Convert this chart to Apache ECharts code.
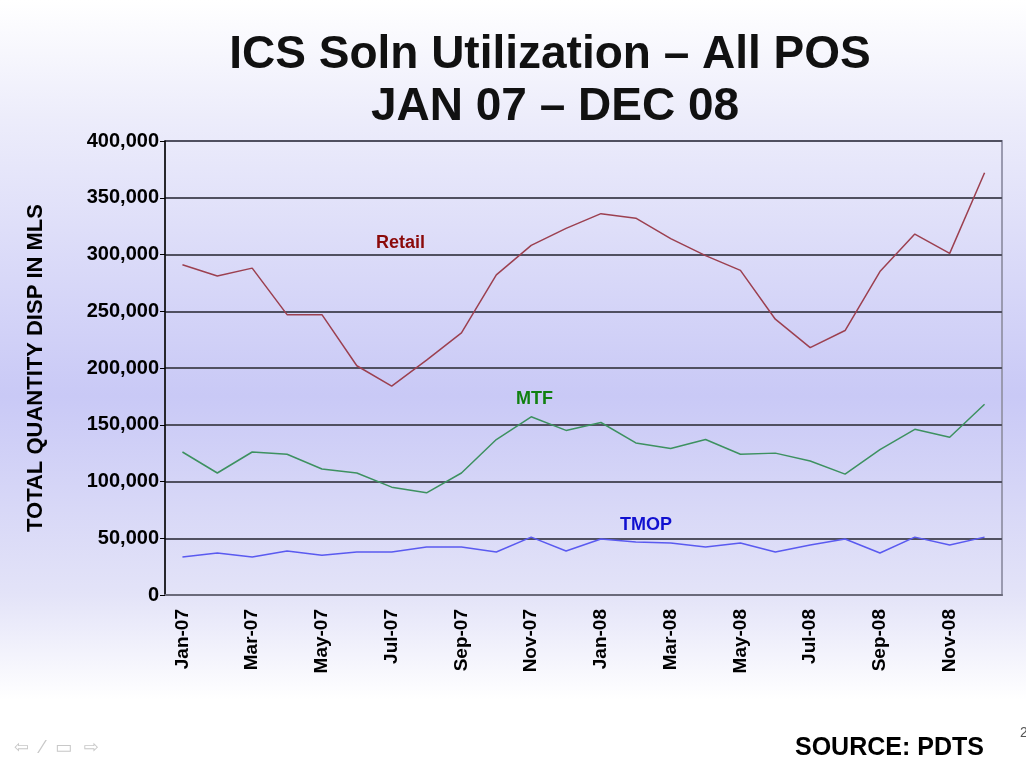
<!DOCTYPE html>
<html>
<head>
<meta charset="utf-8">
<script src="https://cdn.jsdelivr.net/npm/echarts@6/dist/echarts.min.js"></script>
<style>
  html, body { margin: 0; padding: 0; }
  #main { width: 1026px; height: 761px; }
</style>
</head>
<body>
<div id="main"></div>
<script>
// month labels, Jan-07 .. Dec-08
const months = ['Jan-07','Feb-07','Mar-07','Apr-07','May-07','Jun-07','Jul-07','Aug-07','Sep-07','Oct-07','Nov-07','Dec-07',
                'Jan-08','Feb-08','Mar-08','Apr-08','May-08','Jun-08','Jul-08','Aug-08','Sep-08','Oct-08','Nov-08','Dec-08'];

const retail = [291000, 281000, 288000, 247000, 247000, 202000, 184000, 207000, 231000, 282000, 308000, 323000,
                336000, 332000, 314000, 299000, 286000, 243000, 218000, 233000, 285000, 318000, 301000, 372000];
const mtf    = [126000, 107500, 126000, 124000, 111000, 107500, 95000, 90000, 107500, 137000, 157000, 145000,
                152000, 134000, 129000, 137000, 124000, 125000, 118000, 106500, 128000, 146000, 139000, 168000];
const tmop   = [33500, 37000, 33500, 38800, 35000, 37900, 37900, 42300, 42300, 37900, 51000, 38800,
                49300, 46700, 45800, 42300, 45800, 37900, 44000, 49300, 37000, 51000, 44000, 51000];

const yTicks = [0, 50000, 100000, 150000, 200000, 250000, 300000, 350000, 400000];

let chartDom = document.getElementById('main');
let myChart = echarts.init(chartDom);
let option;

const titleStyle = {
  fill: '#111111',
  font: 'bold 46px "Liberation Sans"',
  textAlign: 'center',
  textVerticalAlign: 'middle',
  shadowColor: 'rgba(0,0,0,0.25)',
  shadowOffsetX: 2,
  shadowOffsetY: 2,
  shadowBlur: 2
};

option = {
  backgroundColor: new echarts.graphic.LinearGradient(0, 0, 0, 1, [
    { offset: 0, color: '#ffffff' },
    { offset: 0.15, color: '#ededfb' },
    { offset: 0.52, color: '#c9c9f6' },
    { offset: 0.78, color: '#e3e3f8' },
    { offset: 0.92, color: '#ffffff' },
    { offset: 1, color: '#ffffff' }
  ]),
  grid: {
    left: 165,
    right: 24,
    top: 141,
    bottom: 166,
    show: true,
    backgroundColor: 'transparent',
    borderColor: '#9a9ab0',
    borderWidth: 2
  },
  xAxis: {
    type: 'category',
    data: months,
    boundaryGap: true,
    axisLine: { show: true, lineStyle: { color: '#6a6a7a', width: 2 } },
    axisTick: { show: false },
    axisLabel: {
      interval: 1,
      rotate: 90,
      margin: 14,
      fontFamily: 'Liberation Sans',
      fontWeight: 'bold',
      fontSize: 19,
      color: '#000000'
    }
  },
  yAxis: {
    type: 'value',
    min: 0,
    max: 400000,
    interval: 50000,
    name: 'TOTAL QUANTITY DISP IN MLS',
    nameLocation: 'middle',
    nameRotate: 90,
    nameGap: 118,
    nameTextStyle: {
      fontFamily: 'Liberation Sans',
      fontWeight: 'bold',
      fontSize: 22,
      color: '#000000'
    },
    axisLine: { show: true, lineStyle: { color: '#000000', width: 1.5 } },
    axisTick: { show: true, length: 5, lineStyle: { color: '#000000' } },
    axisLabel: {
      margin: 6,
      fontFamily: 'Liberation Sans',
      fontWeight: 'bold',
      fontSize: 20,
      color: '#000000',
      formatter: v => yTicks.includes(v) ? v.toLocaleString('en-US') : ''
    },
    splitLine: { show: true, lineStyle: { color: '#505060', width: 2 } }
  },
  series: [
    {
      name: 'Retail',
      type: 'line',
      data: retail,
      symbol: 'none',
      lineStyle: { color: '#9c4050', width: 1.5 }
    },
    {
      name: 'MTF',
      type: 'line',
      data: mtf,
      symbol: 'none',
      lineStyle: { color: '#3d9160', width: 1.5 }
    },
    {
      name: 'TMOP',
      type: 'line',
      data: tmop,
      symbol: 'none',
      lineStyle: { color: '#5a5af0', width: 1.5 }
    }
  ],
  graphic: [
    { type: 'text', x: 550, y: 55, style: Object.assign({ text: 'ICS Soln Utilization – All POS' }, titleStyle) },
    { type: 'text', x: 555, y: 107, style: Object.assign({ text: 'JAN 07 – DEC 08' }, titleStyle) },
    { type: 'text', x: 376, y: 243, style: { text: 'Retail', fill: '#8b0a0a', font: 'bold 18px "Liberation Sans"', textVerticalAlign: 'middle' } },
    { type: 'text', x: 516, y: 399, style: { text: 'MTF', fill: '#108010', font: 'bold 18px "Liberation Sans"', textVerticalAlign: 'middle' } },
    { type: 'text', x: 620, y: 525, style: { text: 'TMOP', fill: '#1010d0', font: 'bold 18px "Liberation Sans"', textVerticalAlign: 'middle' } },
    { type: 'text', x: 795, y: 748, style: { text: 'SOURCE: PDTS', fill: '#000000', font: 'bold 25px "Liberation Sans"', textVerticalAlign: 'middle' } },
    { type: 'text', x: 1020, y: 733, style: { text: '2', fill: '#555555', font: '14px "Liberation Sans"', textVerticalAlign: 'middle' } },
    { type: 'text', x: 14, y: 748, style: { text: '⇦  ⁄  ▭  ⇨', fill: '#c8c8c8', font: '18px "DejaVu Sans"', textVerticalAlign: 'middle' } }
  ]
};

option && myChart.setOption(option);
</script>
</body>
</html>
